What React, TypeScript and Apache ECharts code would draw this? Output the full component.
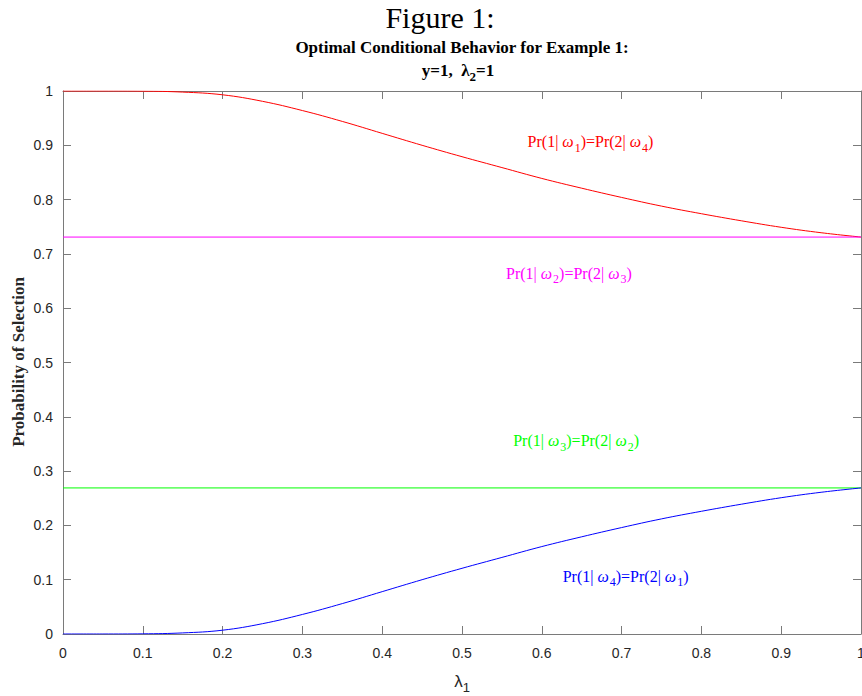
import React, { useEffect, useRef } from "react";
import * as echarts from "echarts";

const xTicks = [0, 0.05, 0.1, 0.15, 0.2, 0.25, 0.3, 0.35, 0.4, 0.45, 0.5, 0.55, 0.6, 0.65, 0.7, 0.75, 0.8, 0.85, 0.9, 0.95, 1];
const redValues = [1, 1, 0.9997, 0.998, 0.993, 0.981, 0.964, 0.944, 0.922, 0.9, 0.879, 0.859, 0.839, 0.821, 0.804, 0.788, 0.774, 0.761, 0.749, 0.739, 0.731];
const blueValues = [0, 0, 0.0003, 0.002, 0.007, 0.019, 0.036, 0.056, 0.078, 0.1, 0.121, 0.141, 0.161, 0.179, 0.196, 0.212, 0.226, 0.239, 0.251, 0.261, 0.269];
const magentaValue = 0.731;
const greenValue = 0.269;

const labelDefs = [
  { a: "1", b: "4", color: "#ff0000", at: [0.661, 0.912] },
  { a: "2", b: "3", color: "#ff00ff", at: [0.634, 0.67] },
  { a: "3", b: "2", color: "#00ff00", at: [0.643, 0.361] },
  { a: "4", b: "1", color: "#0000ff", at: [0.705, 0.112] },
];

const SERIF = "'Liberation Serif', 'Times New Roman', serif";
const SANS = "'Liberation Sans', Arial, Helvetica, sans-serif";
const AXIS_COLOR = "#7a7a7a";

export default function App() {
  const ref = useRef<HTMLDivElement>(null);
  useEffect(() => {
    if (!ref.current) return;
    const chart = echarts.init(ref.current, null, { renderer: "svg" });
    const pairs = (vals: number[]) => xTicks.map((x, i) => [x, vals[i]]);
    const constLine = (v: number) => [[0, v], [1, v]];
    const axisCommon = {
      type: "value" as const,
      min: 0,
      max: 1,
      interval: 0.1,
      splitLine: { show: false },
      axisLine: { show: true, onZero: false, lineStyle: { color: AXIS_COLOR, width: 1 } },
      axisTick: { show: true, inside: true, length: 8, lineStyle: { color: AXIS_COLOR, width: 1 } },
    };
    const option: any = {
      animation: false,
      grid: { left: 63, right: 1, top: 91, bottom: 62, containLabel: false, outerBoundsMode: "none" },
      xAxis: [
        {
          ...axisCommon,
          position: "bottom",
          axisLabel: { show: true, margin: 12, color: "#262626", fontSize: 14, fontFamily: SANS },
        },
        { ...axisCommon, position: "top", axisLabel: { show: false } },
      ],
      yAxis: [
        {
          ...axisCommon,
          position: "left",
          axisLabel: { show: true, margin: 10, color: "#262626", fontSize: 14, fontFamily: SANS },
        },
        { ...axisCommon, position: "right", axisLabel: { show: false } },
      ],
      series: [
        { type: "line", data: pairs(redValues), smooth: 0.4, showSymbol: false, lineStyle: { color: "#ff0000", width: 1 }, z: 3 },
        { type: "line", data: constLine(magentaValue), showSymbol: false, lineStyle: { color: "#ff00ff", width: 1 } },
        { type: "line", data: constLine(greenValue), showSymbol: false, lineStyle: { color: "#00ff00", width: 1 } },
        { type: "line", data: pairs(blueValues), smooth: 0.4, showSymbol: false, lineStyle: { color: "#0000ff", width: 1 }, z: 3 },
      ],
    };
    chart.setOption(option);

    const labels = labelDefs.map((d) => {
      const p = chart.convertToPixel({ gridIndex: 0 }, d.at) as number[];
      const n = { fill: d.color, fontSize: 16, fontFamily: SERIF };
      return {
        type: "text",
        x: p[0],
        y: p[1] + 3,
        style: {
          text: `{n|Pr(1| }{w|ω}{s|${d.a}}{n|)=Pr(2| }{w|ω}{s|${d.b}}{n|)}`,
          align: "center",
          verticalAlign: "middle",
          rich: {
            n: n,
            w: { ...n, fontStyle: "italic" },
            s: { ...n, fontSize: 12, padding: [12, 0, 0, 1] },
          },
        },
      };
    });

    chart.setOption({
      graphic: [
        {
          type: "text",
          x: 440,
          y: 17,
          style: { text: "Figure 1:", align: "center", verticalAlign: "middle", fill: "#000", fontSize: 30, fontFamily: SERIF },
        },
        {
          type: "text",
          x: 462,
          y: 47,
          style: {
            text: "Optimal Conditional Behavior for Example 1:",
            align: "center",
            verticalAlign: "middle",
            fill: "#000",
            fontSize: 17,
            fontWeight: "bold",
            fontFamily: SERIF,
          },
        },
        {
          type: "text",
          x: 458,
          y: 70,
          style: {
            text: "{n|y=1,  λ}{s|2}{n|=1}",
            align: "center",
            verticalAlign: "middle",
            rich: {
              n: { fill: "#000", fontSize: 17, fontWeight: "bold", fontFamily: SERIF },
              s: { fill: "#000", fontSize: 13, fontWeight: "bold", fontFamily: SERIF, padding: [12, 0, 0, 0] },
            },
          },
        },
        {
          type: "text",
          x: 18,
          y: 362,
          rotation: Math.PI / 2,
          style: {
            text: "Probability of Selection",
            align: "center",
            verticalAlign: "middle",
            fill: "#262626",
            fontSize: 17,
            fontWeight: "bold",
            fontFamily: SERIF,
          },
        },
        {
          type: "text",
          x: 462,
          y: 681,
          style: {
            text: "{n|λ}{s|1}",
            align: "center",
            verticalAlign: "middle",
            rich: {
              n: { fill: "#262626", fontSize: 17, fontFamily: SANS },
              s: { fill: "#262626", fontSize: 13, fontFamily: SANS, padding: [12, 0, 0, 0] },
            },
          },
        },
        ...labels,
      ],
    });
    return () => chart.dispose();
  }, []);
  return (
    <div
      ref={ref}
      style={{ position: "absolute", left: 0, top: 0, width: 862, height: 696, background: "#fff" }}
    />
  );
}
